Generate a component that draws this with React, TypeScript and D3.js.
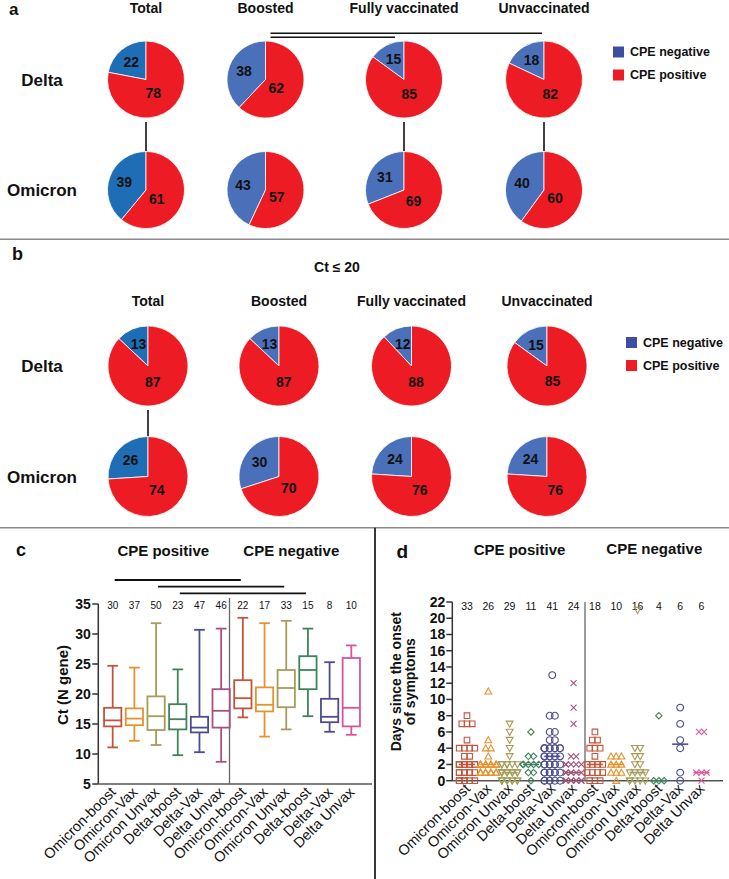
import React from "react";
import * as d3 from "d3";

const W = 729;
const H = 879;
const FONT = "'Liberation Sans', Arial, Helvetica, sans-serif";

// ---------- Panel a / b data ----------
const pieColumns = ["Total", "Boosted", "Fully vaccinated", "Unvaccinated"];
const pieRows = ["Delta", "Omicron"];
const deltaNegA = [22, 38, 15, 18];
const deltaPosA = [78, 62, 85, 82];
const omicronNegA = [39, 43, 31, 40];
const omicronPosA = [61, 57, 69, 60];
const deltaNegB = [13, 13, 12, 15];
const deltaPosB = [87, 87, 88, 85];
const omicronNegB = [26, 30, 24, 24];
const omicronPosB = [74, 70, 76, 76];
const legendLabels = ["CPE negative", "CPE positive"];
const panelBTitle = "Ct ≤ 20";

// ---------- Panel c / d data ----------
const groupLabels = [
  "Omicron-boost", "Omicron-Vax", "Omicron Unvax", "Delta-boost", "Delta-Vax", "Delta Unvax",
  "Omicron-boost", "Omicron-Vax", "Omicron Unvax", "Delta-boost", "Delta-Vax", "Delta Unvax",
];
const sideLabels = ["CPE positive", "CPE negative"];
const ctN = [30, 37, 50, 23, 47, 46, 22, 17, 33, 15, 8, 10];
const ctMin = [11.1, 12.2, 11.5, 9.8, 10.3, 8.7, 16.1, 12.9, 14.1, 16.3, 13.7, 13.2];
const ctQ1 = [14.6, 14.8, 14.0, 14.1, 13.6, 14.4, 17.6, 17.1, 17.8, 20.8, 15.3, 14.6];
const ctMed = [15.6, 15.9, 16.3, 15.8, 14.4, 17.2, 19.3, 18.2, 21.0, 24.0, 16.2, 17.7];
const ctQ3 = [17.7, 17.6, 19.6, 18.3, 16.2, 20.8, 22.3, 21.1, 24.0, 26.3, 19.2, 26.0];
const ctMax = [24.7, 24.4, 31.8, 24.1, 30.7, 30.9, 32.7, 31.8, 32.2, 30.9, 25.3, 28.1];
const ctTicks = [5, 10, 15, 20, 25, 30, 35];
const ctSig: [number, number][] = [[0, 6], [2, 8], [3, 9]];

const daysN = [33, 26, 29, 11, 41, 24, 18, 10, 16, 4, 6, 6];
const daysTicks = [0, 2, 4, 6, 8, 10, 12, 14, 16, 18, 20, 22];
// [value, count] pairs
const daysPositive: [number, number][][] = [
  [[0, 6], [1, 7], [2, 9], [3, 2], [4, 4], [5, 1], [7, 3], [8, 1]],
  [[1, 11], [2, 10], [3, 1], [4, 2], [5, 1], [11, 1]],
  [[0, 9], [1, 9], [2, 6], [3, 1], [4, 1], [5, 1], [6, 1], [7, 1]],
  [[0, 1], [1, 2], [2, 5], [3, 2], [6, 1]],
  [[0, 6], [1, 7], [2, 7], [3, 5], [4, 9], [5, 2], [6, 2], [8, 2], [13, 1]],
  [[0, 8], [1, 6], [2, 5], [3, 2], [7, 1], [9, 1], [12, 1]],
];
const daysNegative: [number, number][][] = [
  [[0, 3], [1, 4], [2, 4], [3, 1], [4, 3], [5, 2], [6, 1]],
  [[0, 1], [1, 3], [2, 3], [3, 3]],
  [[0, 5], [1, 4], [2, 2], [3, 2], [4, 2], [21, 1]],
  [[0, 3], [8, 1]],
  [[0, 1], [1, 1], [4, 1], [5, 1], [7, 1], [9, 1]],
  [[0, 1], [1, 3], [6, 2]],
];

const groupColors = [
  "#c2553c", "#e6932f", "#a59c58", "#3e835a", "#4d4d8e", "#a5537e",
  "#c2553c", "#e6932f", "#a59c58", "#3e835a", "#4d4d8e", "#d9559a",
];
const RED = "#ed1c24";
const BLUE = "#4a70ba";
const BLUE_TOTAL = "#1f6eb5";
const LEGEND_BLUE = "#3d4ea0";

type PieProps = { cx: number; cy: number; r: number; neg: number; pos: number; blue: string };

function Pie({ cx, cy, r, neg, pos, blue }: PieProps) {
  const a = (neg / (neg + pos)) * Math.PI * 2;
  const arcs = d3.pie<number>().sort(null).startAngle(-a).endAngle(Math.PI * 2 - a)([neg, pos]);
  const arc = d3.arc<d3.PieArcDatum<number>>().innerRadius(0).outerRadius(r);
  const midN = -a / 2;
  const midP = (Math.PI * 2 - a) / 2;
  const nx = cx + Math.sin(midN) * 0.6 * r;
  const ny = cy - Math.cos(midN) * 0.6 * r;
  const px = cx + Math.sin(midP) * 0.3 * r;
  const py = cy - Math.cos(midP) * 0.3 * r + 0.12 * r;
  return (
    <g>
      {arcs.map((d, i) => (
        <path key={i} d={arc(d) || ""} transform={`translate(${cx},${cy})`}
          fill={i === 0 ? blue : RED} stroke="#ffffff" strokeWidth={0.8} />
      ))}
      <text x={nx} y={ny} textAnchor="middle" dominantBaseline="central" fontSize={14} fontWeight="bold">{neg}</text>
      <text x={px} y={py} textAnchor="middle" dominantBaseline="central" fontSize={14} fontWeight="bold">{pos}</text>
    </g>
  );
}

function PiePanel({ colX, rowY, r, headerY, neg, pos, connectors, legendX, legendY }: {
  colX: number[]; rowY: number[]; r: number; headerY: number;
  neg: number[][]; pos: number[][]; connectors: number[]; legendX: number; legendY: number;
}) {
  return (
    <g>
      {pieColumns.map((c, i) => (
        <text key={c} x={colX[i]} y={headerY} textAnchor="middle" fontSize={14} fontWeight="bold">{c}</text>
      ))}
      {pieRows.map((rw, j) => (
        <text key={rw} x={42} y={rowY[j] + 6} textAnchor="middle" fontSize={17} fontWeight="bold">{rw}</text>
      ))}
      {connectors.map((ci) => (
        <line key={ci} x1={colX[ci]} x2={colX[ci]} y1={rowY[0] + r + 4} y2={rowY[1] - r + 2}
          stroke="#111" strokeWidth={1.6} />
      ))}
      {pieRows.map((rw, j) =>
        pieColumns.map((c, i) => (
          <Pie key={rw + c} cx={colX[i]} cy={rowY[j]} r={r} neg={neg[j][i]} pos={pos[j][i]}
            blue={i === 0 ? BLUE_TOTAL : BLUE} />
        ))
      )}
      {legendLabels.map((l, k) => (
        <g key={l}>
          <rect x={legendX} y={legendY + k * 23 - 5.5} width={11} height={11} fill={k === 0 ? LEGEND_BLUE : RED} />
          <text x={legendX + 17} y={legendY + k * 23} dominantBaseline="central" fontSize={12.5} fontWeight="bold">{l}</text>
        </g>
      ))}
    </g>
  );
}

function markerPath(g: number): string {
  switch (g % 6) {
    case 0: return "M-2.8,-2.8h5.6v5.6h-5.6Z";
    case 1: return "M0,-3.4L3.4,2.7L-3.4,2.7Z";
    case 2: return "M0,3.4L3.4,-2.7L-3.4,-2.7Z";
    case 3: return "M0,-3.2L3.2,0L0,3.2L-3.2,0Z";
    case 4: return "M3.4,0A3.4,3.4,0,1,1,-3.4,0A3.4,3.4,0,1,1,3.4,0Z";
    default: return "M-3,-3L3,3M-3,3L3,-3";
  }
}

function XLabels({ x, axisY }: { x: d3.ScalePoint<number>; axisY: number }) {
  return (
    <g>
      {groupLabels.map((l, i) => (
        <text key={i} transform={`translate(${(x(i) as number) + 4},${axisY + 9}) rotate(-45)`}
          textAnchor="end" fontSize={14.5}>{l}</text>
      ))}
    </g>
  );
}

function PanelC() {
  const y = d3.scaleLinear().domain([5, 35]).range([784, 604]);
  const x = d3.scalePoint<number>().domain(d3.range(12)).range([112.7, 351.3]);
  const axisX = 98.3;
  const bw = 17.3;
  const cap = 10.7;
  return (
    <g>
      <text x={16} y={556} fontSize={18} fontWeight="bold">c</text>
      <text x={163.3} y={556} textAnchor="middle" fontSize={15} fontWeight="bold">{sideLabels[0]}</text>
      <text x={291.3} y={556} textAnchor="middle" fontSize={15} fontWeight="bold">{sideLabels[1]}</text>
      {ctSig.map(([a, b], k) => (
        <line key={k} x1={(x(a) as number) + 2} x2={(x(b) as number) - 2}
          y1={580 + k * 6.7} y2={580 + k * 6.7} stroke="#111" strokeWidth={1.8} />
      ))}
      <line x1={axisX} x2={axisX} y1={y(35)} y2={y(5)} stroke="#333" strokeWidth={1.5} />
      <line x1={axisX} x2={372} y1={y(5)} y2={y(5)} stroke="#555" strokeWidth={1.5} />
      <line x1={229.5} x2={229.5} y1={598} y2={y(5)} stroke="#666" strokeWidth={1.3} />
      {ctTicks.map((t) => (
        <g key={t}>
          <line x1={axisX - 6} x2={axisX} y1={y(t)} y2={y(t)} stroke="#333" strokeWidth={1.5} />
          <text x={axisX - 7.5} y={y(t)} textAnchor="end" dominantBaseline="central" fontSize={14} fontWeight="bold">{t}</text>
        </g>
      ))}
      <text transform={`translate(67.5,685) rotate(-90)`} textAnchor="middle" fontSize={15} fontWeight="bold">Ct (N gene)</text>
      {ctN.map((n, i) => (
        <text key={i} x={x(i) as number} y={608.5} textAnchor="middle" fontSize={10}>{n}</text>
      ))}
      {ctN.map((_, i) => {
        const cx = x(i) as number;
        const c = groupColors[i];
        return (
          <g key={i} stroke={c} strokeWidth={1.8} fill="none">
            <line x1={cx} x2={cx} y1={y(ctMax[i])} y2={y(ctQ3[i])} />
            <line x1={cx} x2={cx} y1={y(ctQ1[i])} y2={y(ctMin[i])} />
            <line x1={cx - cap / 2} x2={cx + cap / 2} y1={y(ctMax[i])} y2={y(ctMax[i])} />
            <line x1={cx - cap / 2} x2={cx + cap / 2} y1={y(ctMin[i])} y2={y(ctMin[i])} />
            <rect x={cx - bw / 2} y={y(ctQ3[i])} width={bw} height={y(ctQ1[i]) - y(ctQ3[i])} />
            <line x1={cx - bw / 2} x2={cx + bw / 2} y1={y(ctMed[i])} y2={y(ctMed[i])} />
          </g>
        );
      })}
      <XLabels x={x} axisY={y(5)} />
    </g>
  );
}

function PanelD() {
  const y = d3.scaleLinear().domain([0, 22]).range([780.7, 602]);
  const x = d3.scalePoint<number>().domain(d3.range(12)).range([467, 701.5]);
  const axisX = 452.3;
  const groups = [...daysPositive, ...daysNegative];
  return (
    <g>
      <text x={396.5} y={558} fontSize={19} fontWeight="bold">d</text>
      <text x={519.5} y={555} textAnchor="middle" fontSize={15} fontWeight="bold">{sideLabels[0]}</text>
      <text x={654.3} y={554} textAnchor="middle" fontSize={15} fontWeight="bold">{sideLabels[1]}</text>
      <line x1={axisX} x2={axisX} y1={y(22)} y2={y(0)} stroke="#333" strokeWidth={1.5} />
      <line x1={axisX} x2={723} y1={y(0)} y2={y(0)} stroke="#555" strokeWidth={1.5} />
      <line x1={585} x2={585} y1={y(22)} y2={y(0)} stroke="#666" strokeWidth={1.3} />
      {daysTicks.map((t) => (
        <g key={t}>
          <line x1={axisX - 6} x2={axisX} y1={y(t)} y2={y(t)} stroke="#333" strokeWidth={1.5} />
          <text x={axisX - 7} y={y(t)} textAnchor="end" dominantBaseline="central" fontSize={14} fontWeight="bold">{t}</text>
        </g>
      ))}
      <text transform={`translate(400.5,681.7) rotate(-90)`} textAnchor="middle" fontSize={14} fontWeight="bold">Days since the onset</text>
      <text transform={`translate(415,681.7) rotate(-90)`} textAnchor="middle" fontSize={14} fontWeight="bold">of symptoms</text>
      {daysN.map((n, i) => (
        <text key={i} x={x(i) as number} y={610} textAnchor="middle" fontSize={10.5}>{n}</text>
      ))}
      {groups.map((g, i) => {
        const cx = x(i) as number;
        const c = groupColors[i];
        const values: number[] = [];
        g.forEach(([v, k]) => { for (let j = 0; j < k; j++) values.push(v); });
        const med = d3.median(values) as number;
        return (
          <g key={i}>
            {g.map(([v, k]) => {
              const slots = Math.min(k, 4);
              const s = 5.2;
              return d3.range(k).map((j) => (
                <path key={`${v}-${j}`} d={markerPath(i)}
                  transform={`translate(${cx + ((j % slots) - (slots - 1) / 2) * s},${y(v)})`}
                  fill="none" stroke={c} strokeWidth={1.1} />
              ));
            })}
            <line x1={cx - 8} x2={cx + 8} y1={y(med)} y2={y(med)} stroke={c} strokeWidth={1.6} />
          </g>
        );
      })}
      <XLabels x={x} axisY={y(0)} />
    </g>
  );
}

export default function App() {
  return (
    <svg width={W} height={H} viewBox={`0 0 ${W} ${H}`}
      style={{ position: "absolute", left: 0, top: 0, background: "#fff" }}
      fontFamily={FONT} fill="#111">
      <rect x={0} y={0} width={W} height={H} fill="#fff" />
      {/* Panel a */}
      <text x={9} y={15} fontSize={17} fontWeight="bold">a</text>
      <line x1={270.5} x2={542} y1={33.3} y2={33.3} stroke="#111" strokeWidth={1.6} />
      <line x1={270.5} x2={395} y1={37.3} y2={37.3} stroke="#111" strokeWidth={1.6} />
      <PiePanel colX={[146, 265.5, 404, 544]} rowY={[79.5, 190]} r={38.5} headerY={13}
        neg={[deltaNegA, omicronNegA]} pos={[deltaPosA, omicronPosA]} connectors={[0, 2, 3]}
        legendX={613} legendY={52} />
      <line x1={0} x2={W} y1={239.3} y2={239.3} stroke="#8a8a8a" strokeWidth={1.5} />
      {/* Panel b */}
      <text x={12} y={260} fontSize={18} fontWeight="bold">b</text>
      <text x={337} y={272} textAnchor="middle" fontSize={14} fontWeight="bold">{panelBTitle}</text>
      <PiePanel colX={[148, 279, 411.5, 547]} rowY={[366, 476.5]} r={40} headerY={306}
        neg={[deltaNegB, omicronNegB]} pos={[deltaPosB, omicronPosB]} connectors={[0]}
        legendX={626} legendY={342.5} />
      <line x1={0} x2={W} y1={527.7} y2={527.7} stroke="#8a8a8a" strokeWidth={1.5} />
      <line x1={375} x2={375} y1={527.7} y2={H} stroke="#222" strokeWidth={1.8} />
      <PanelC />
      <PanelD />
    </svg>
  );
}
